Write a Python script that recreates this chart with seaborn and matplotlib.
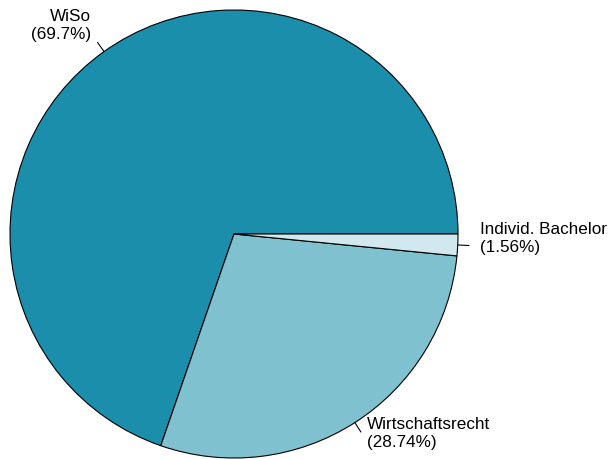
import numpy as np
import matplotlib
matplotlib.use("Agg")
import matplotlib.pyplot as plt
import seaborn as sns

categories = ["WiSo", "Wirtschaftsrecht", "Individ. Bachelor"]
values = [69.7, 28.74, 1.56]
pct_labels = ["(69.7%)", "(28.74%)", "(1.56%)"]
colors = ["#1B8EAC", "#80C1CF", "#D0E8EE"]

sns.set_theme(style="white")
plt.rcParams["font.family"] = ["Liberation Sans", "DejaVu Sans"]

W, H = 614, 459
fig = plt.figure(figsize=(W / 100, H / 100), dpi=100)
ax = fig.add_axes([0, 0, 1, 1])

wedges, _ = ax.pie(values, colors=colors, startangle=0, counterclock=True,
                   radius=1.0, center=(0, 0),
                   wedgeprops=dict(edgecolor="black", linewidth=0.8))

cx_px, cy_px, r_px = 234, 234, 224
ax.set_aspect("auto")
ax.set_xlim(-cx_px / r_px, (W - cx_px) / r_px)
ax.set_ylim(-(H - cy_px) / r_px, cy_px / r_px)
ax.axis("off")

total = sum(values)
cum = 0.0
for cat, v, pl in zip(categories, values, pct_labels):
    mid = 2 * np.pi * (cum + v / 2) / total
    cum += v
    c, s = np.cos(mid), np.sin(mid)
    ax.plot([c, 1.05 * c], [s, 1.05 * s], color="black", lw=0.8)
    ha = "left" if c > 0 else "right"
    ax.text(1.1 * c, 1.1 * s + 0.036, f"{cat}\n{pl}", ha=ha, va="center",
            multialignment=ha, fontsize=12.3, color="black", linespacing=1.25)

fig.savefig("out.png", dpi=100)
